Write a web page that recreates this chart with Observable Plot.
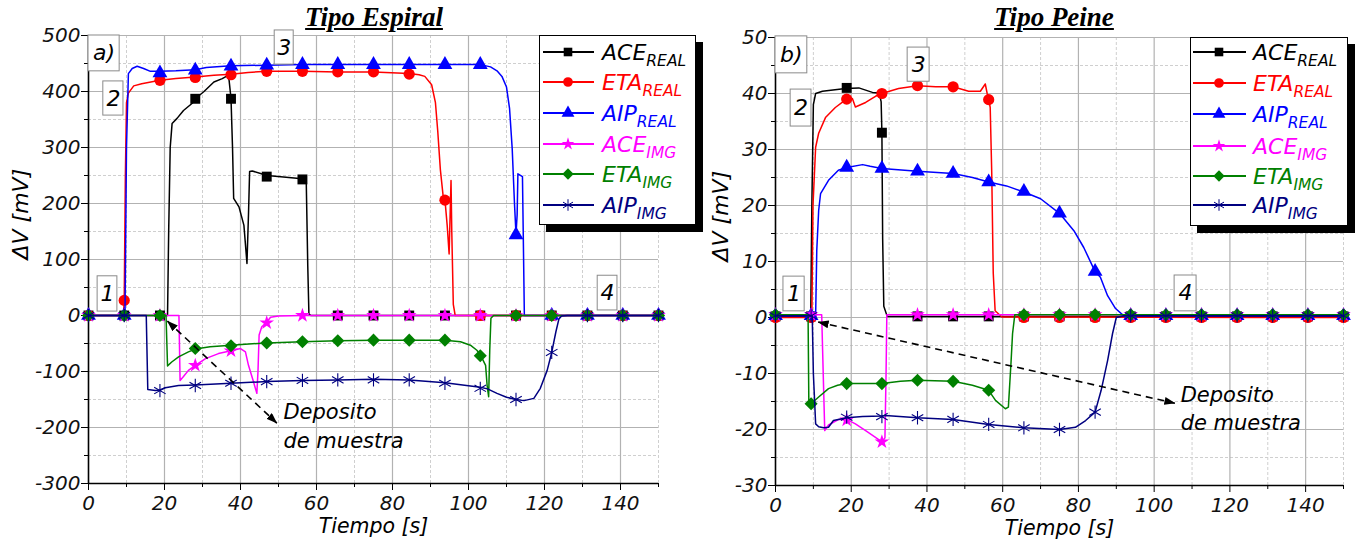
<!DOCTYPE html>
<html><head><meta charset="utf-8">
<script src="https://cdn.jsdelivr.net/npm/d3@7"></script>
<script src="https://cdn.jsdelivr.net/npm/@observablehq/plot@0.6"></script>
<style>
body{margin:0;background:#fff;}
#wrap{position:relative;width:1356px;height:543px;overflow:hidden;font-family:"DejaVu Sans",Arial,sans-serif;background:#fff;}
.title{position:absolute;top:4px;font-family:"Liberation Serif","Times New Roman",serif;font-weight:bold;font-style:italic;font-size:27px;line-height:27px;text-decoration:underline;white-space:nowrap;transform:translateX(-50%);color:#000;}
</style></head>
<body><div id="wrap"></div>
<script>
// ---------- shared ----------
const markTimes = [0, 9.4, 18.8, 28.1, 37.5, 46.9, 56.3, 65.6, 75, 84.4, 93.8, 103.1, 112.5, 121.9, 131.3, 140.6, 150];
const xTicks = [0, 20, 40, 60, 80, 100, 120, 140];
const xMinorTicks = [10, 30, 50, 70, 90, 110, 130, 150];
const seriesNames = ["ACE", "ETA", "AIP", "ACE", "ETA", "AIP"];
const seriesSubs = ["REAL", "REAL", "REAL", "IMG", "IMG", "IMG"];

// ---------- Tipo Espiral (a) ----------
const espACEreal = [[0,0],[20.8,0],[21.1,150],[21.5,300],[22,343],[23.3,352],[25,366],[27.3,379],[28.1,387],[30.4,400],[33,417],[35.2,423],[36.5,428],[37,420],[37.5,388],[37.9,300],[38.2,209],[39.6,194],[40.9,161],[41.7,93],[42.1,180],[42.4,257],[43.1,258],[47,250],[52,247],[56.2,244],[57.3,240],[57.7,89],[58,3],[58.5,0],[150,0]];
const espACErealM = [0,0,0,387,387,248,243,0,0,0,0,0,0,0,0,0,0];
const espETAreal = [[0,0],[9.2,0],[9.4,27],[9.7,250],[10,380],[10.5,397],[11.9,410],[14,414],[18.8,420],[23,423],[28.1,426],[33,429],[37.5,431],[42,434],[46.9,436],[56.3,436],[65.6,435],[75,435],[84.4,432],[87,430],[88.5,427],[90.3,412],[91.3,380],[91.9,330],[92.6,260],[93.3,215],[93.8,207],[94.4,160],[94.9,110],[95.4,241],[95.6,150],[96,20],[96.5,0],[150,0]];
const espETArealM = [0,27,420,425,430,436,436,435,435,431,206,0,0,0,0,0,0];
const espAIPreal = [[0,0],[9.6,0],[10,300],[10.5,432],[11.5,441],[12.8,445],[14.5,441],[16.3,436],[18.8,436],[23,437],[28.1,439],[31,443],[37.5,446],[46.9,447],[56.3,448],[103.1,448],[105.8,444],[107.5,437],[108.8,427],[110,408],[110.8,370],[111.5,298],[112.1,200],[112.5,145],[112.8,180],[113,253],[114.2,248],[114.5,100],[114.7,0],[150,0]];
const espAIPrealM = [0,0,433,438,445,447,448,448,448,448,448,448,144,0,0,0,0];
const espACEimg = [[0,0],[23.8,0],[24.1,-116],[25,-109],[26.3,-98],[28.1,-89],[30.8,-77],[34.2,-68],[37.5,-63],[40,-59],[41.3,-65],[42.1,-89],[43.4,-118],[44.3,-139],[44.6,-100],[44.9,-35],[45.6,-20],[46.9,-12],[47.9,-3],[50,-1],[56.3,0],[150,0]];
const espACEimgM = [0,0,0,-89,-63,-13,0,0,0,0,0,0,0,0,0,0,0];
const espETAimg = [[0,0],[20.4,0],[20.8,-90],[21.9,-83],[23.7,-74],[26.3,-65],[28.1,-60],[32,-56],[37.5,-53],[46.9,-49],[56.3,-47],[65.6,-45],[75,-44],[84.4,-44],[93.8,-44],[97.9,-47],[100.5,-53],[102.2,-62],[103.1,-70],[104.5,-89],[104.9,-125],[105.3,-145],[105.6,-60],[105.9,-5],[106.6,0],[150,0]];
const espETAimgM = [0,0,0,-59,-54,-49,-47,-45,-44,-44,-44,-72,0,0,0,0,0];
const espAIPimg = [[0,0],[15.2,0],[15.6,-132],[17.6,-134],[18.8,-133],[20.2,-129],[23.7,-125],[28.1,-124],[37.5,-121],[46.9,-118],[56.3,-116],[65.6,-115],[75,-114],[84.4,-115],[93.8,-120],[103.1,-128],[105,-131],[107.5,-139],[110,-146],[112.5,-150],[114.6,-152],[117.2,-148],[118.9,-130],[120.7,-98],[121.9,-66],[123,-29],[123.8,-6],[124.5,-1],[126,0],[150,0]];
const espAIPimgM = [0,0,-134,-125,-121,-118,-116,-115,-115,-115,-121,-130,-150,-66,0,0,0];
const espYTicks = [-300,-200,-100,0,100,200,300,400,500];
const espYMinor = [-250,-150,-50,50,150,250,350,450];
const espBoxLabels = ["a)","1","2","3","4"];
const espNoteLines = ["Deposito","de muestra"];

// ---------- Tipo Peine (b) ----------
const peiACEreal = [[0,0.2],[9.3,0.2],[9.6,20],[10,38],[10.6,40],[12.4,40.4],[18.5,40.9],[22,41],[25.6,40.2],[27.4,40.1],[27.9,38.5],[28.1,33],[28.3,14],[28.6,2],[29.5,0.2],[150,0.2]];
const peiACErealM = [0.2,0.2,41,33,0.2,0.2,0.2,0.2,0.2,0.2,0.2,0.2,0.2,0.2,0.2,0.2,0.2];
const peiETAreal = [[0,0],[9.6,0],[9.9,20],[10.6,30.4],[11.4,32.9],[13.2,35.7],[15.8,37.5],[17.6,38.4],[18.8,39],[20.3,39.1],[21.1,37.6],[23.8,38.4],[26.4,39.5],[28.1,40],[32.5,40.9],[37.5,41.4],[42.3,41.2],[46.9,41.2],[51,40.4],[54.1,40.4],[55.4,41.7],[55.9,40],[56.3,39],[56.7,37.5],[57.1,26],[57.5,8],[58,1.2],[59.8,0.1],[150,0]];
const peiETArealM = [0,0,39,40,41.4,41.2,38.9,0,0,0,0,0,0,0,0,0,0];
const peiAIPreal = [[0,0.3],[10.6,0.3],[10.9,12],[11.4,19.1],[11.9,22.1],[14,24.5],[16.6,26.3],[18.8,26.8],[23,27.3],[25,27],[28.1,26.6],[37.5,26.1],[46.9,25.7],[52,25],[56.3,24.2],[61,23.5],[65.6,22.4],[70,21.2],[75,18.6],[78.8,15.5],[81.4,12.5],[84.4,8.2],[85.8,7.2],[87.7,3.9],[89.8,1.6],[92,0.3],[150,0.3]];
const peiAIPrealM = [0.3,0.3,26.8,26.6,26.1,25.7,24.2,22.5,18.6,8.2,0.3,0.3,0.3,0.3,0.3,0.3,0.3];
const peiACEimg = [[0,0.5],[12.2,0.5],[12.6,-10],[13,-20.2],[14,-19.2],[16.7,-18.2],[18.8,-18.2],[21.1,-19],[23.8,-20.2],[26.4,-21.4],[28.1,-22.2],[28.9,-21.5],[29.2,-10],[29.4,0.5],[150,0.5]];
const peiACEimgM = [0.5,0.5,-18.3,-22.2,0.5,0.5,0.5,0.5,0.5,0.5,0.5,0.5,0.5,0.5,0.5,0.5,0.5];
const peiETAimg = [[0,0.5],[8.6,0.5],[8.8,-14.8],[9.4,-15.4],[11.4,-14.2],[14,-12.7],[16.4,-12.1],[18.8,-11.8],[23,-11.8],[28.1,-11.8],[33,-11.4],[37.5,-11.2],[42,-11.3],[46.9,-11.4],[52,-12.1],[56.3,-13],[58.1,-14.8],[60.7,-16.3],[61.5,-16],[62.2,-8],[62.6,-2.9],[63.2,0.5],[150,0.5]];
const peiETAimgM = [0.5,-15.4,-11.8,-11.8,-11.2,-11.4,-13,0.5,0.5,0.5,0.5,0.5,0.5,0.5,0.5,0.5,0.5];
const peiAIPimg = [[0,0.3],[9.7,0.3],[10,-10],[10.6,-19],[11.4,-19.5],[12.7,-19.7],[14,-19.6],[15.3,-18.4],[18.8,-17.9],[23,-17.7],[28.1,-17.6],[29,-17.5],[37.5,-17.9],[46.9,-18.2],[56.3,-19.1],[65.6,-19.7],[75,-20],[79.2,-19.6],[81.9,-18.4],[84.4,-16.9],[86,-13],[87.7,-7.7],[89,-2.9],[90,0],[92,0.3],[150,0.3]];
const peiAIPimgM = [0.3,0.3,-17.8,-17.7,-17.9,-18.2,-19.1,-19.7,-20,-16.9,0.3,0.3,0.3,0.3,0.3,0.3,0.3];
const peiYTicks = [-30,-20,-10,0,10,20,30,40,50];
const peiYMinor = [-25,-15,-5,5,15,25,35,45];
const peiBoxLabels = ["b)","1","2","3","4"];
const peiNoteLines = ["Deposito","de muestra"];

// ---------- styles (kept apart from data) ----------
const seriesStyle = [
  {color:"#000000", symbol:"square",   r:5.6},
  {color:"#ff0000", symbol:"circle",   r:5.6},
  {color:"#0000ff", symbol:"triangle", r:5.5},
  {color:"#ff00ff", symbol:"star",     r:4.6},
  {color:"#008000", symbol:"diamond2", r:5.9},
  {color:"#000080", symbol:"asterisk", r:6.3}
];
const d3Symbols = {square:d3.symbolSquare, circle:d3.symbolCircle, triangle:d3.symbolTriangle, star:d3.symbolStar, diamond2:d3.symbolDiamond2, asterisk:d3.symbolAsterisk};
const sansFont = '"DejaVu Sans", Arial, sans-serif';

const wrap = document.getElementById("wrap");

function panel(cfg) {
  const tickText = {fontSize: 20, fontStyle: "italic", fontFamily: sansFont, fill: "#111"};
  const marks = [
    Plot.ruleX(xMinorTicks, {stroke:"#cfcfcf", strokeDasharray:"3,2"}),
    Plot.ruleY(cfg.yMinor, {stroke:"#cfcfcf", strokeDasharray:"3,2"}),
    Plot.ruleX(xTicks.slice(1), {stroke:"#b2b2b2", strokeWidth:1.2}),
    Plot.ruleY(cfg.yTicks.slice(1), {stroke:"#b2b2b2", strokeWidth:1.2}),
    Plot.axisX({ticks: xTicks, tickFormat: d => String(d), tickSize: 7, tickPadding: 5, label: null, ...tickText}),
    Plot.axisX({ticks: xMinorTicks, tickFormat: () => "", tickSize: 4, label: null}),
    Plot.axisY({ticks: cfg.yTicks, tickFormat: d => String(d), tickSize: 7, tickPadding: 1, label: null, ...tickText}),
    Plot.axisY({ticks: cfg.yMinor, tickFormat: () => "", tickSize: 4, label: null}),
    Plot.ruleX([0], {stroke:"#000", strokeWidth:1.6}),
    Plot.ruleY([cfg.yTicks[0]], {stroke:"#000", strokeWidth:1.6})
  ];
  cfg.lines.forEach((ln, i) => {
    const st = seriesStyle[i];
    marks.push(Plot.line(ln, {x: d => d[0], y: d => d[1], stroke: st.color, strokeWidth: 1.5}));
    const isStroke = st.symbol === "asterisk";
    marks.push(Plot.dot(cfg.markers[i], {x: (d, j) => markTimes[j], y: d => d, symbol: st.symbol, r: st.r,
      fill: isStroke ? "none" : st.color, stroke: isStroke ? st.color : "none", strokeWidth: 1.1}));
  });
  const boxes = cfg.boxLabels.map((label, i) => ({label, x1: cfg.boxPos[i][0], x2: cfg.boxPos[i][1], y1: cfg.boxPos[i][2], y2: cfg.boxPos[i][3]}));
  marks.push(Plot.rect(boxes, {x1:"x1", x2:"x2", y1:"y1", y2:"y2", fill:"#fff", stroke:"#8a8a8a", strokeWidth:1}));
  marks.push(Plot.text(boxes, {x: d => (d.x1 + d.x2) / 2, y: d => (d.y1 + d.y2) / 2, text: "label", fontSize: 22, fill:"#000"}));
  marks.push(Plot.text(cfg.noteLines, {x: () => cfg.notePos[0], y: (d, i) => cfg.notePos[1 + i], text: d => d, textAnchor: "start", fontSize: 21, fill:"#000"}));
  marks.push(Plot.text(["ΔV [mV]"], {frameAnchor: "left", rotate: -90, dx: cfg.yLabelDx, fontSize: 22, fill:"#000"}));
  marks.push(Plot.text(["Tiempo [s]"], {frameAnchor: "bottom", dy: 49.5, fontSize: 20.5, fill:"#000"}));

  const plot = Plot.plot({
    width: cfg.width, height: 543,
    marginLeft: cfg.ml, marginRight: cfg.mr, marginTop: cfg.mt, marginBottom: cfg.mb,
    x: {domain: [0, 150]}, y: {domain: [cfg.yTicks[0], cfg.yTicks[cfg.yTicks.length - 1]]},
    style: {fontFamily: sansFont, fontStyle: "italic", fontSize: "20px", background: "transparent", color: "#000", overflow: "visible", maxWidth: "none", position: "absolute", left: cfg.left + "px", top: "0px"},
    marks
  });
  // dashed double-headed annotation arrow, placed through the plot's scales
  const sx = plot.scale("x"), sy = plot.scale("y");
  const svg = d3.select(plot);
  const id = "ah" + cfg.left;
  svg.append("defs").append("marker").attr("id", id).attr("viewBox", "0 0 11 8").attr("refX", 10.5).attr("refY", 4)
    .attr("markerWidth", 11).attr("markerHeight", 8).attr("markerUnits", "userSpaceOnUse").attr("orient", "auto-start-reverse")
    .append("path").attr("d", "M0,0L11,4L0,8Z").attr("fill", "#000");
  svg.append("line")
    .attr("x1", sx.apply(cfg.arrow[0])).attr("y1", sy.apply(cfg.arrow[1]))
    .attr("x2", sx.apply(cfg.arrow[2])).attr("y2", sy.apply(cfg.arrow[3]))
    .attr("stroke", "#000").attr("stroke-width", 1.6).attr("stroke-dasharray", "7,5")
    .attr("marker-start", `url(#${id})`).attr("marker-end", `url(#${id})`);
  wrap.appendChild(plot);
}

function legend(left, top, w, h, rowY, lx1, lx2, mx, tx) {
  const svg = d3.select(wrap).append("svg").style("position", "absolute").style("left", left + "px").style("top", top + "px")
    .attr("width", w + 8).attr("height", h + 8).style("overflow", "visible");
  svg.append("rect").attr("x", 7).attr("y", 7).attr("width", w).attr("height", h).attr("fill", "#000");
  svg.append("rect").attr("x", 0.5).attr("y", 0.5).attr("width", w - 1).attr("height", h - 1).attr("fill", "#fff").attr("stroke", "#000");
  seriesStyle.forEach((st, i) => {
    const y = rowY[i];
    svg.append("line").attr("x1", lx1).attr("x2", lx2).attr("y1", y).attr("y2", y).attr("stroke", st.color).attr("stroke-width", 2);
    const isStroke = st.symbol === "asterisk";
    svg.append("path").attr("transform", `translate(${mx},${y})`)
      .attr("d", d3.symbol(d3Symbols[st.symbol], Math.PI * st.r * st.r * 0.75)())
      .attr("fill", isStroke ? "none" : st.color).attr("stroke", isStroke ? st.color : "none");
    const t = svg.append("text").attr("x", tx).attr("y", y + 8).attr("fill", st.color)
      .style("font-family", sansFont).style("font-style", "italic").style("font-size", "22px")
      .text(seriesNames[i]);
    t.append("tspan").attr("dy", 6).style("font-size", "15.5px").text(seriesSubs[i]);
  });
}

panel({
  left: 0, width: 690, ml: 88, mr: 32, mt: 35, mb: 60, yLabelDx: -68,
  yTicks: espYTicks, yMinor: espYMinor,
  lines: [espACEreal, espETAreal, espAIPreal, espACEimg, espETAimg, espAIPimg],
  markers: [espACErealM, espETArealM, espAIPrealM, espACEimgM, espETAimgM, espAIPimgM],
  boxLabels: espBoxLabels,
  boxPos: [[0, 8.2, 436, 500], [2.4, 7.6, 7, 70], [3.9, 9.2, 357, 418], [49, 54, 448, 509], [134, 139.2, 9, 71]],
  noteLines: espNoteLines, notePos: [51.3, -172, -224],
  arrow: [20.9, -11, 49.7, -193]
});
panel({
  left: 690, width: 666, ml: 85, mr: 13, mt: 37, mb: 58, yLabelDx: -55,
  yTicks: peiYTicks, yMinor: peiYMinor,
  lines: [peiACEreal, peiETAreal, peiAIPreal, peiACEimg, peiETAimg, peiAIPimg],
  markers: [peiACErealM, peiETArealM, peiAIPrealM, peiACEimgM, peiETAimgM, peiAIPimgM],
  boxLabels: peiBoxLabels,
  boxPos: [[0, 8.4, 43.6, 50.2], [2.1, 7.7, 1.1, 7.3], [4, 9.5, 34.1, 40.7], [34.9, 40.7, 42.1, 48.2], [105.4, 111.2, 1.1, 7.5]],
  noteLines: peiNoteLines, notePos: [107, -13.9, -18.9],
  arrow: [11.4, -0.9, 105.6, -15.4]
});

legend(539, 35, 157, 190, [17, 47, 78, 109, 139, 170], 4, 55, 29, 63);
legend(1190, 37, 158, 189, [15, 46, 77, 109, 139, 168], 3, 56, 29, 63);

const t1 = document.createElement("div"); t1.className = "title"; t1.style.left = "374px"; t1.textContent = "Tipo Espiral"; wrap.appendChild(t1);
const t2 = document.createElement("div"); t2.className = "title"; t2.style.left = "1054px"; t2.textContent = "Tipo Peine"; wrap.appendChild(t2);
</script></body></html>
